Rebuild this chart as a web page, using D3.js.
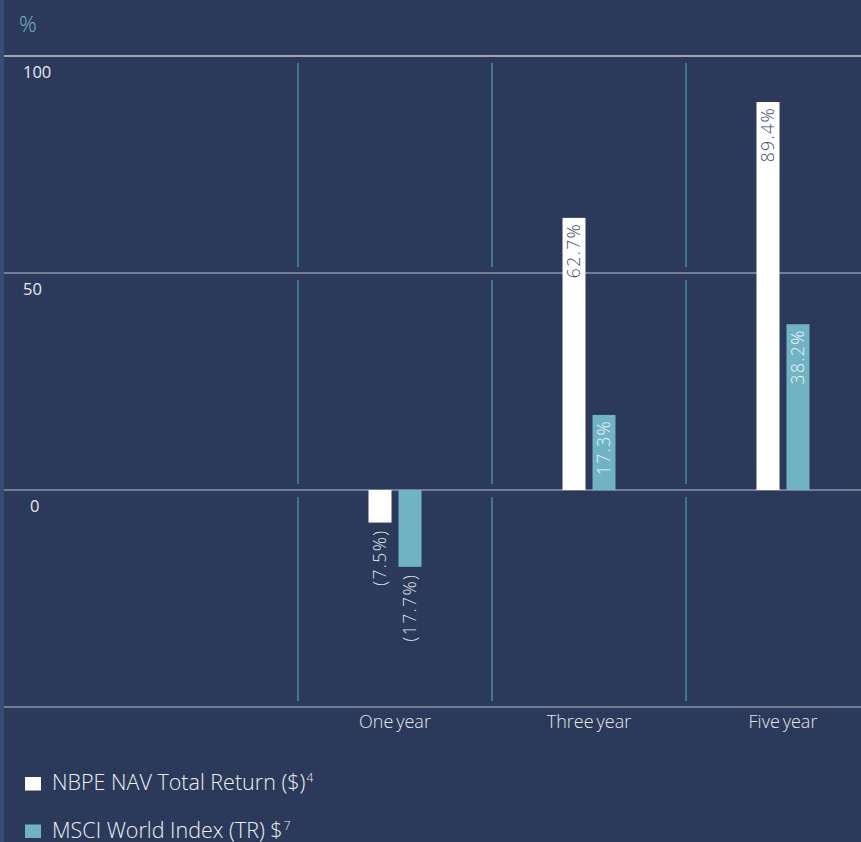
<!DOCTYPE html>
<html>
<head>
<meta charset="utf-8">
<script src="https://cdn.jsdelivr.net/npm/d3@7"></script>
<style>
  body { margin: 0; background: #2b3a5a; }
  svg { display: block; font-family: 'Open Sans', sans-serif; font-weight: 300; }
</style>
</head>
<body>
<svg id="chart" width="861" height="842"></svg>
<script>
const categories = ['One year', 'Three year', 'Five year'];
const nbpeValues = [-7.5, 62.7, 89.4];
const msciValues = [-17.7, 17.3, 38.2];
const yTicks = [100, 50, 0, -50];
const yTickLabels = ['100', '50', '0', ''];
const seriesNames = ['NBPE NAV Total Return ($)', 'MSCI World Index (TR) $'];
const seriesNotes = ['4', '7'];

const width = 861;
const height = 842;
const svg = d3.select('#chart');

const colors = { nbpe: '#ffffff', msci: '#6fb3c4' };
const seriesKeys = ['nbpe', 'msci'];

// left edge strip
svg.append('rect')
  .attr('x', 0).attr('y', 0)
  .attr('width', 4).attr('height', height)
  .attr('fill', '#394c77');

svg.append('text')
  .attr('x', 19).attr('y', 32)
  .attr('fill', '#6fb3c4')
  .attr('font-size', 22)
  .text('%');

const yScale = d3.scaleLinear()
  .domain([-50, 100])
  .range([707, 56]);

const x0 = d3.scaleBand()
  .domain(categories)
  .range([298, 880]);

const groupW = 53;
const x1 = d3.scaleBand()
  .domain(seriesKeys)
  .range([(x0.bandwidth() - groupW) / 2, (x0.bandwidth() + groupW) / 2])
  .paddingInner(7 / 30);

// horizontal grid
const grid = svg.append('g');
grid.selectAll('line').data(yTicks).enter().append('line')
  .attr('x1', 4).attr('x2', width)
  .attr('y1', d => yScale(d)).attr('y2', d => yScale(d))
  .attr('stroke', (d, i) => i === 0 ? '#c9c9cc' : '#8c95aa')
  .attr('stroke-width', 1.3);

grid.selectAll('text').data(yTicks).enter().append('text')
  .attr('x', (d, i) => yTickLabels[i].length === 1 ? 30 : 23)
  .attr('y', d => yScale(d) + 22)
  .attr('fill', '#e6e8ee')
  .attr('font-size', 16.5)
  .attr('font-weight', 400)
  .text((d, i) => yTickLabels[i]);

// vertical separators, broken around each gridline
const sepSegs = [];
x0.domain().forEach(c => {
  for (let i = 0; i < yTicks.length - 1; i++) {
    sepSegs.push({ x: x0(c), y1: yScale(yTicks[i]) + 7, y2: yScale(yTicks[i + 1]) - 6 });
  }
});
svg.append('g').selectAll('line').data(sepSegs).enter().append('line')
  .attr('x1', d => d.x).attr('x2', d => d.x)
  .attr('y1', d => d.y1).attr('y2', d => d.y2)
  .attr('stroke', '#4fb6c6')
  .attr('stroke-width', 1);

const rows = [];
categories.forEach((c, i) => {
  rows.push({ cat: c, key: 'nbpe', value: nbpeValues[i] });
  rows.push({ cat: c, key: 'msci', value: msciValues[i] });
});

const fmt = v => v < 0 ? `(${Math.abs(v).toFixed(1)}%)` : `${v.toFixed(1)}%`;

const bars = svg.append('g');
bars.selectAll('rect').data(rows).enter().append('rect')
  .attr('x', d => x0(d.cat) + x1(d.key))
  .attr('width', x1.bandwidth())
  .attr('y', d => yScale(Math.max(0, d.value)))
  .attr('height', d => Math.abs(yScale(d.value) - yScale(0)))
  .attr('fill', d => colors[d.key]);

bars.selectAll('text').data(rows).enter().append('text')
  .attr('transform', d => {
    const cx = x0(d.cat) + x1(d.key) + x1.bandwidth() / 2;
    const y = d.value >= 0 ? yScale(d.value) + 5 : yScale(d.value) + 7;
    return `translate(${cx},${y}) rotate(-90)`;
  })
  .attr('text-anchor', 'end')
  .attr('dy', '0.36em')
  .attr('font-size', 17.5)
  .attr('letter-spacing', 1.4)
  .attr('fill', d => d.value < 0 ? '#dfe3ea' : (d.key === 'nbpe' ? '#3d4e70' : '#eef4f7'))
  .text(d => fmt(d.value));

// category labels
svg.append('g').selectAll('text').data(categories).enter().append('text')
  .attr('x', d => x0(d) + x0.bandwidth() / 2)
  .attr('y', 728)
  .attr('text-anchor', 'middle')
  .attr('fill', '#e6e8ee')
  .attr('font-size', 18)
  .attr('word-spacing', -1.8)
  .text(d => d);

// legend
const legend = svg.append('g').selectAll('g').data(seriesKeys).enter().append('g')
  .attr('transform', (d, i) => `translate(25, ${790 + i * 47.5})`);
legend.append('rect')
  .attr('y', -13)
  .attr('width', 16).attr('height', 13.5)
  .attr('fill', d => colors[d]);
const lt = legend.append('text')
  .attr('x', 27).attr('y', 0)
  .attr('fill', '#eef0f4')
  .attr('font-size', 21.5);
lt.append('tspan').text((d, i) => seriesNames[i]);
lt.append('tspan')
  .attr('dy', -8).attr('dx', 1)
  .attr('font-size', 12)
  .text((d, i) => seriesNotes[i]);
</script>
</body>
</html>
